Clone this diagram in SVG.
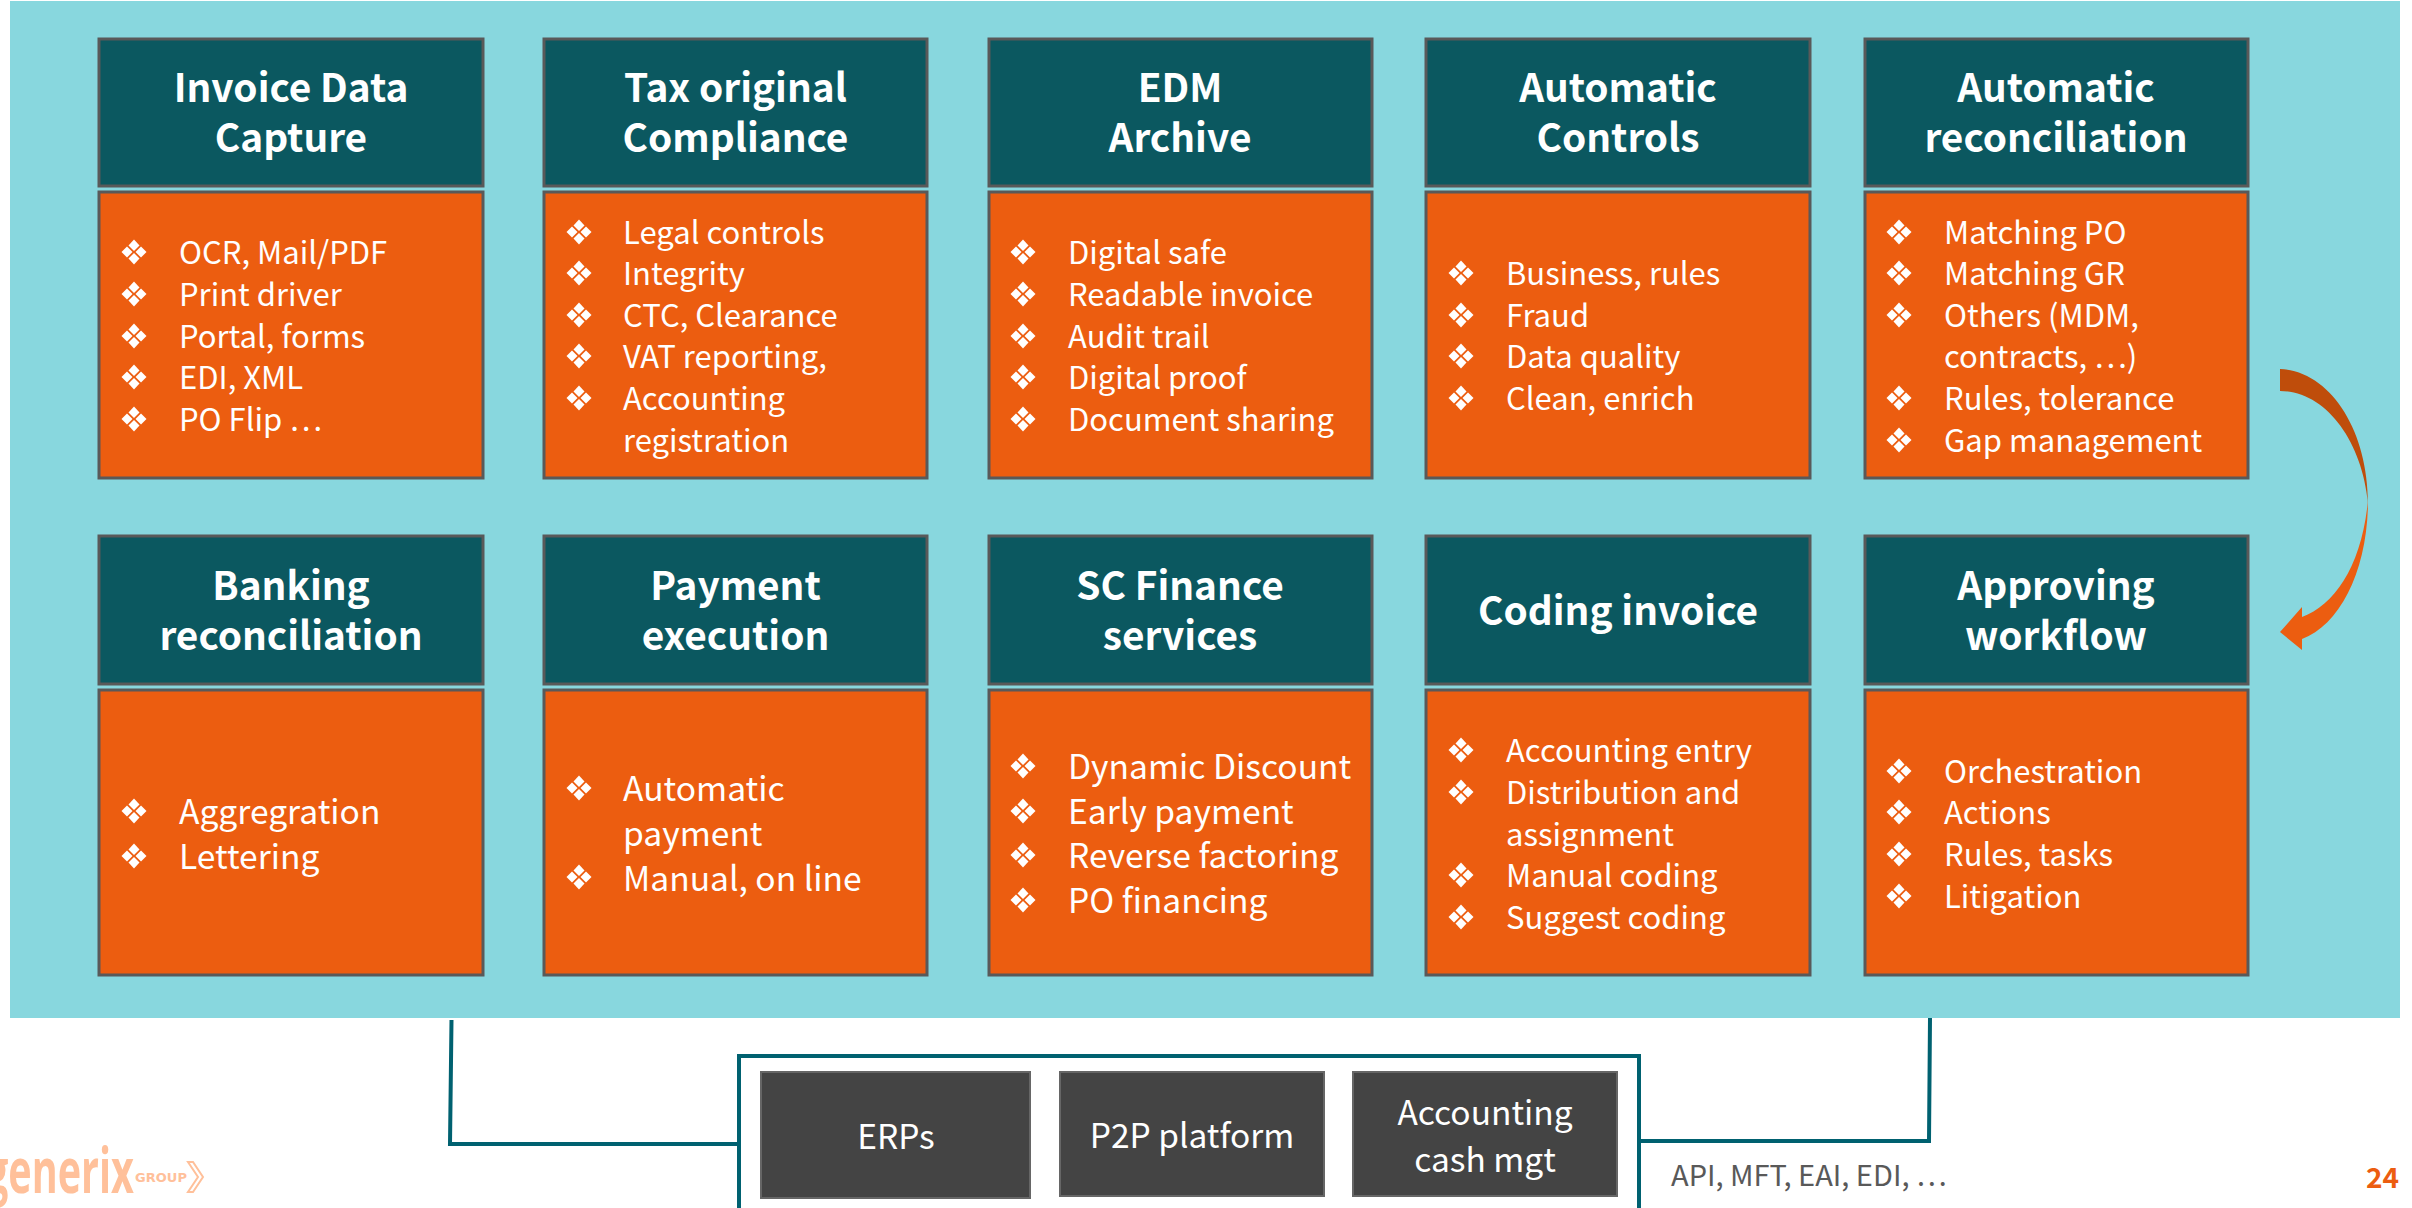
<svg xmlns="http://www.w3.org/2000/svg" width="2412" height="1208" viewBox="0 0 2412 1208">
<style>
text{font-family:"Noto Sans CJK SC","Source Sans Pro","Noto Sans",sans-serif}
.h{fill:#0B5860;stroke:#595959;stroke-width:3}
.b{fill:#EC5D10;stroke:#595959;stroke-width:3}
.g{fill:#444444;stroke:#666666;stroke-width:2}
.ht{fill:#fff;font-size:38.8px;font-weight:700;text-anchor:middle}
.t{fill:#fff;font-size:31px;font-weight:400}
.l{font-size:33.600px}
.gt{fill:#fff;font-size:33.500px;text-anchor:middle}
.c{fill:none;stroke:#006170;stroke-width:4}
</style>
<defs>
<g id="bl" fill="#fff"><path d="M0-12.500 5.500-6.500 0-1-5.500-6.500Z"/><path d="M0 1 5.500 6.500 0 12.500-5.500 6.500Z"/><path d="M-12.500 0-7-5.500-1.500 0-7 5.500Z"/><path d="M12.500 0 7-5.500 1.500 0 7 5.500Z"/></g>
</defs>
<rect width="2412" height="1208" fill="#fff"/>
<rect x="10" y="1" width="2390" height="1017" fill="#88D7DE"/>
<g id="connectors">
<path class="c" d="M451.500 1020 L450 1144 H738"/>
<path class="c" d="M1640 1141 H1929 L1930 1018"/>
</g>
<g id="flow-arrow">
<path fill="#BF4D0B" d="M2280 369C2330 371 2368 430 2368 503C2362 440 2325 391 2280 391Z"/>
<path fill="#EC5D10" d="M2368 500C2368 570 2340 625 2302 639V650L2280 632 2302 607V617C2335 605 2362 565 2368 500Z"/>
</g>
<g id="n1"><rect class="h" x="99" y="39" width="384" height="147"/><text class="ht" x="291" y="102">Invoice Data</text><text class="ht" x="291" y="152">Capture</text>
<rect class="b" x="99" y="192" width="384" height="286"/>
<use href="#bl" x="134" y="252"/><text class="t" x="179" y="264">OCR, Mail/PDF</text>
<use href="#bl" x="134" y="294"/><text class="t" x="179" y="306">Print driver</text>
<use href="#bl" x="134" y="336"/><text class="t" x="179" y="348">Portal, forms</text>
<use href="#bl" x="134" y="377"/><text class="t" x="179" y="389">EDI, XML</text>
<use href="#bl" x="134" y="419"/><text class="t" x="179" y="431">PO Flip …</text></g>
<g id="n2"><rect class="h" x="544" y="39" width="383" height="147"/><text class="ht" x="735.500" y="102">Tax original</text><text class="ht" x="735.500" y="152">Compliance</text>
<rect class="b" x="544" y="192" width="383" height="286"/>
<use href="#bl" x="579" y="232"/><text class="t" x="623" y="244">Legal controls</text>
<use href="#bl" x="579" y="273"/><text class="t" x="623" y="285">Integrity</text>
<use href="#bl" x="579" y="315"/><text class="t" x="623" y="327">CTC, Clearance</text>
<use href="#bl" x="579" y="356"/><text class="t" x="623" y="368">VAT reporting,</text>
<use href="#bl" x="579" y="398"/><text class="t" x="623" y="410">Accounting</text>
<text class="t" x="623" y="452">registration</text></g>
<g id="n3"><rect class="h" x="989" y="39" width="383" height="147"/><text class="ht" x="1180" y="102">EDM</text><text class="ht" x="1180" y="152">Archive</text>
<rect class="b" x="989" y="192" width="383" height="286"/>
<use href="#bl" x="1023" y="252"/><text class="t" x="1068" y="264">Digital safe</text>
<use href="#bl" x="1023" y="294"/><text class="t" x="1068" y="306">Readable invoice</text>
<use href="#bl" x="1023" y="336"/><text class="t" x="1068" y="348">Audit trail</text>
<use href="#bl" x="1023" y="377"/><text class="t" x="1068" y="389">Digital proof</text>
<use href="#bl" x="1023" y="419"/><text class="t" x="1068" y="431">Document sharing</text></g>
<g id="n4"><rect class="h" x="1426" y="39" width="384" height="147"/><text class="ht" x="1618" y="102">Automatic</text><text class="ht" x="1618" y="152">Controls</text>
<rect class="b" x="1426" y="192" width="384" height="286"/>
<use href="#bl" x="1461" y="273"/><text class="t" x="1506" y="285">Business, rules</text>
<use href="#bl" x="1461" y="315"/><text class="t" x="1506" y="327">Fraud</text>
<use href="#bl" x="1461" y="356"/><text class="t" x="1506" y="368">Data quality</text>
<use href="#bl" x="1461" y="398"/><text class="t" x="1506" y="410">Clean, enrich</text></g>
<g id="n5"><rect class="h" x="1865" y="39" width="383" height="147"/><text class="ht" x="2056" y="102">Automatic</text><text class="ht" x="2056" y="152">reconciliation</text>
<rect class="b" x="1865" y="192" width="383" height="286"/>
<use href="#bl" x="1899" y="232"/><text class="t" x="1944" y="244">Matching PO</text>
<use href="#bl" x="1899" y="273"/><text class="t" x="1944" y="285">Matching GR</text>
<use href="#bl" x="1899" y="315"/><text class="t" x="1944" y="327">Others (MDM,</text>
<text class="t" x="1944" y="368">contracts, …)</text>
<use href="#bl" x="1899" y="398"/><text class="t" x="1944" y="410">Rules, tolerance</text>
<use href="#bl" x="1899" y="440"/><text class="t" x="1944" y="452">Gap management</text></g>
<g id="n6"><rect class="h" x="99" y="536" width="384" height="148"/><text class="ht" x="291" y="600">Banking</text><text class="ht" x="291" y="650">reconciliation</text>
<rect class="b" x="99" y="690" width="384" height="285"/>
<use href="#bl" x="134" y="811"/><text class="t l" x="179" y="824">Aggregration</text>
<use href="#bl" x="134" y="856"/><text class="t l" x="179" y="869">Lettering</text></g>
<g id="n7"><rect class="h" x="544" y="536" width="383" height="148"/><text class="ht" x="735.500" y="600">Payment</text><text class="ht" x="735.500" y="650">execution</text>
<rect class="b" x="544" y="690" width="383" height="285"/>
<use href="#bl" x="579" y="788"/><text class="t l" x="623" y="801">Automatic</text>
<text class="t l" x="623" y="846">payment</text>
<use href="#bl" x="579" y="877"/><text class="t l" x="623" y="891">Manual, on line</text></g>
<g id="n8"><rect class="h" x="989" y="536" width="383" height="148"/><text class="ht" x="1180" y="600">SC Finance</text><text class="ht" x="1180" y="650">services</text>
<rect class="b" x="989" y="690" width="383" height="285"/>
<use href="#bl" x="1023" y="766"/><text class="t l" x="1068" y="779">Dynamic Discount</text>
<use href="#bl" x="1023" y="811"/><text class="t l" x="1068" y="824">Early payment</text>
<use href="#bl" x="1023" y="855"/><text class="t l" x="1068" y="868">Reverse factoring</text>
<use href="#bl" x="1023" y="900"/><text class="t l" x="1068" y="913">PO financing</text></g>
<g id="n9"><rect class="h" x="1426" y="536" width="384" height="148"/><text class="ht" x="1618" y="625">Coding invoice</text>
<rect class="b" x="1426" y="690" width="384" height="285"/>
<use href="#bl" x="1461" y="750"/><text class="t" x="1506" y="762">Accounting entry</text>
<use href="#bl" x="1461" y="792"/><text class="t" x="1506" y="804">Distribution and</text>
<text class="t" x="1506" y="846">assignment</text>
<use href="#bl" x="1461" y="875"/><text class="t" x="1506" y="887">Manual coding</text>
<use href="#bl" x="1461" y="917"/><text class="t" x="1506" y="929">Suggest coding</text></g>
<g id="n10"><rect class="h" x="1865" y="536" width="383" height="148"/><text class="ht" x="2056" y="600">Approving</text><text class="ht" x="2056" y="650">workflow</text>
<rect class="b" x="1865" y="690" width="383" height="285"/>
<use href="#bl" x="1899" y="771"/><text class="t" x="1944" y="783">Orchestration</text>
<use href="#bl" x="1899" y="812"/><text class="t" x="1944" y="824">Actions</text>
<use href="#bl" x="1899" y="854"/><text class="t" x="1944" y="866">Rules, tasks</text>
<use href="#bl" x="1899" y="896"/><text class="t" x="1944" y="908">Litigation</text></g>
<g id="systems"><rect x="739" y="1056" width="900" height="170" fill="#fff" stroke="#006170" stroke-width="4"/></g>
<g id="erps"><rect class="g" x="761" y="1072" width="269" height="126"/><text class="gt" x="896" y="1149">ERPs</text></g>
<g id="p2p"><rect class="g" x="1060" y="1072" width="264" height="124"/><text class="gt" x="1192" y="1148">P2P platform</text></g>
<g id="acc"><rect class="g" x="1353" y="1072" width="264" height="124"/><text class="gt" x="1485" y="1125">Accounting</text><text class="gt" x="1485" y="1172">cash mgt</text></g>
<text x="1671" y="1186" font-size="29" fill="#595959">API, MFT, EAI, EDI, …</text>
<text x="2366" y="1188" font-size="28" font-weight="700" fill="#EC5D10">24</text>
<g id="logo">
<text x="-14" y="1193" font-size="62" font-weight="700" fill="#FFC09A" textLength="148" lengthAdjust="spacingAndGlyphs" style="font-family:'Open Sans',sans-serif">generix</text>
<text x="135" y="1182" font-size="13" font-weight="700" fill="#FFC09A" textLength="52" style="font-family:'DejaVu Sans',sans-serif">GROUP</text>
<path fill="none" stroke="#FFC09A" stroke-width="2" d="M188 1162H193L203 1177 193 1192H188L198 1177Z"/>
</g>
</svg>
